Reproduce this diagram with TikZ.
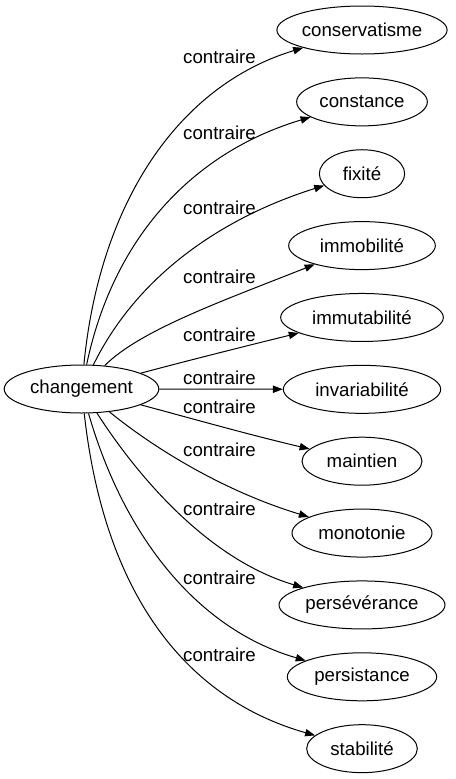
\documentclass[tikz,border=0pt]{standalone}
\usepackage{fontspec}
\setmainfont{Liberation Sans}
\usetikzlibrary{positioning,shapes.geometric,arrows.meta}

\begin{document}
\begin{tikzpicture}[x=0.75pt, y=-0.75pt, node distance=17.15pt,
    word/.style={ellipse, draw, line width=0.75pt, minimum height=36pt, inner sep=0pt, font=\fontsize{14}{16}\selectfont},
    lbl/.style={anchor=base, inner sep=0pt, font=\fontsize{14}{16}\selectfont},
    arrow/.style={line width=0.75pt, -{Triangle[length=7.5pt,width=5.5pt]}}]

    \useasboundingbox (0,0) rectangle (456,779);

    \node (chg) [word, minimum width=116pt] at (81.5,389) {changement};

    \node (cons) [word, minimum width=125pt] at (362,30) {conservatisme};
    \node (const) [word, minimum width=98pt, below=of cons] {constance};
    \node (fix) [word, minimum width=64pt, below=of const] {fixité};
    \node (immob) [word, minimum width=110pt, below=of fix] {immobilité};
    \node (immut) [word, minimum width=122pt, below=of immob] {immutabilité};
    \node (invar) [word, minimum width=118pt, below=of immut] {invariabilité};
    \node (maint) [word, minimum width=90pt, below=of invar] {maintien};
    \node (mono) [word, minimum width=105pt, below=of maint] {monotonie};
    \node (persev) [word, minimum width=124.5pt, below=of mono] {persévérance};
    \node (persist) [word, minimum width=112pt, below=of persev] {persistance};
    \node (stab) [word, minimum width=83pt, below=of persist] {stabilité};

    \draw [arrow] (chg) .. controls (100,200) and (180,85) .. (cons);
    \draw [arrow] (chg) .. controls (115,230) and (200,150) .. (const);
    \draw [arrow] (chg) .. controls (140,270) and (230,215) .. (fix);
    \draw [arrow] (chg) .. controls (140,330) and (225,300) .. (immob);
    \draw [arrow] (chg) .. controls (190,360) and (250,345) .. (immut);
    \draw [arrow] (chg) -- (invar);
    \draw [arrow] (chg) .. controls (190,418) and (250,435) .. (maint);
    \draw [arrow] (chg) .. controls (150,445) and (220,490) .. (mono);
    \draw [arrow] (chg) .. controls (140,480) and (210,560) .. (persev);
    \draw [arrow] (chg) .. controls (125,540) and (200,630) .. (persist);
    \draw [arrow] (chg) .. controls (105,600) and (190,700) .. (stab);

    \node (l1) [lbl] at (219.5,63) {contraire};
    \node (l2) [lbl] at (219.5,139) {contraire};
    \node (l3) [lbl] at (219.5,214) {contraire};
    \node (l4) [lbl] at (219.5,283) {contraire};
    \node (l5) [lbl] at (219.5,341) {contraire};
    \node (l6) [lbl] at (219.5,384) {contraire};
    \node (l7) [lbl] at (219.5,413) {contraire};
    \node (l8) [lbl] at (219.5,456) {contraire};
    \node (l9) [lbl] at (219.5,515) {contraire};
    \node (l10) [lbl] at (219.5,584) {contraire};
    \node (l11) [lbl] at (219.5,661) {contraire};
\end{tikzpicture}
\end{document}
